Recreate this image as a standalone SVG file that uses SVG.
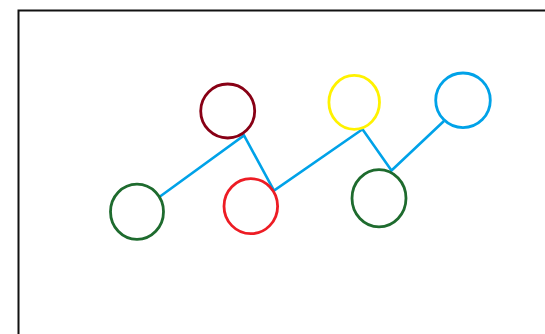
<svg xmlns="http://www.w3.org/2000/svg" width="545" height="334" viewBox="0 0 545 334">
<style>
.n{fill:none;stroke-width:2.8}
.e{stroke:#00A2E8;stroke-width:2.6;fill:none;stroke-linejoin:miter}
</style>
<rect x="0" y="0" width="545" height="334" fill="#ffffff"/>
<rect x="18.5" y="10.5" width="600" height="400" fill="none" stroke="#111" stroke-width="2"/>
<g id="connectors">
<polyline class="e" points="160,196.5 244,135.5 274,190.5 362.5,129.3 391.5,170.5 444,121"/>
</g>
<g id="n-maroon"><ellipse class="n" stroke="#880015" cx="227.7" cy="111" rx="27" ry="27"/></g>
<g id="n-yellow"><ellipse class="n" stroke="#FFF200" cx="354.2" cy="102.3" rx="25.3" ry="27"/></g>
<g id="n-blue"><ellipse class="n" stroke="#00A2E8" cx="463" cy="100.3" rx="27.3" ry="27.3"/></g>
<g id="n-green1"><ellipse class="n" stroke="#1E6B2E" cx="137" cy="211.7" rx="26.5" ry="27.6"/></g>
<g id="n-red"><ellipse class="n" stroke="#ED1C24" cx="250.8" cy="206.2" rx="26.8" ry="27.5"/></g>
<g id="n-green2"><ellipse class="n" stroke="#1E6B2E" cx="379" cy="198.3" rx="27" ry="28.6"/></g>
</svg>
